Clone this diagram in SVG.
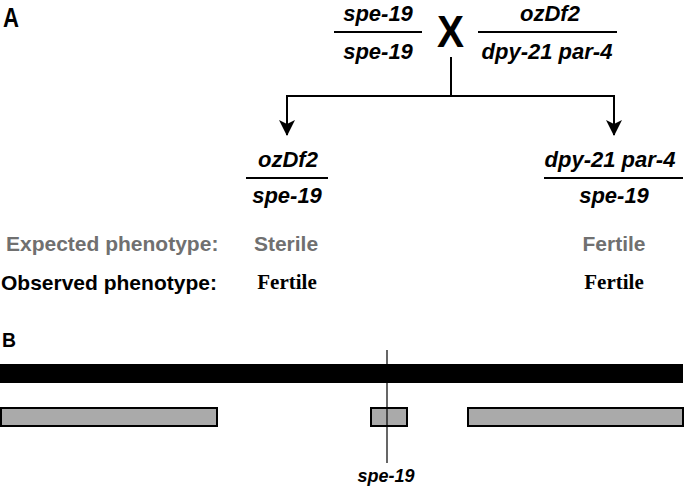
<svg xmlns="http://www.w3.org/2000/svg" width="685" height="488" viewBox="0 0 685 488">
<style>
.lbl{font-family:"Liberation Sans",Arial,sans-serif;font-weight:bold;}
.gi{font-family:"Liberation Sans",Arial,sans-serif;font-weight:bold;font-style:italic;font-size:22px;text-anchor:middle;fill:#000;}
.ph{font-family:"Liberation Sans",Arial,sans-serif;font-weight:bold;font-size:21px;}
.grey{fill:#707070;}
.serif{font-family:"Liberation Serif","Times New Roman",serif;font-weight:bold;font-size:21px;text-anchor:middle;fill:#000;}
.frac{stroke:#000;stroke-width:2;}
.conn{stroke:#000;stroke-width:2;fill:none;}
.seg{fill:#aaaaaa;stroke:#000;stroke-width:2;}
</style>
<defs>
<marker id="arr" markerWidth="16" markerHeight="18" refX="15" refY="8" orient="auto" markerUnits="userSpaceOnUse" viewBox="0 0 16 16">
<path d="M0,0 L16,8 L0,16 L4,8 Z" fill="#000"/>
</marker>
</defs>
<rect width="685" height="488" fill="#fff"/>
<text class="lbl" x="3" y="27" font-size="27" textLength="16" lengthAdjust="spacingAndGlyphs">A</text>
<text class="lbl" x="2" y="347" font-size="21" textLength="14" lengthAdjust="spacingAndGlyphs">B</text>

<g id="parent1">
<text class="gi" x="378" y="21">spe-19</text>
<line class="frac" x1="334" y1="32" x2="422" y2="32"/>
<text class="gi" x="378" y="59">spe-19</text>
</g>
<g id="cross">
<text class="lbl" x="437" y="47" font-size="45" textLength="27" lengthAdjust="spacingAndGlyphs">X</text>
</g>
<g id="parent2">
<text class="gi" x="550" y="21">ozDf2</text>
<line class="frac" x1="478" y1="32" x2="617" y2="32"/>
<text class="gi" x="547" y="59">dpy-21 par-4</text>
</g>

<g id="connectors">
<polyline class="conn" points="451,57 451,96"/>
<polyline class="conn" points="287,96 614,96"/>
<line class="conn" x1="287" y1="95" x2="287" y2="135" marker-end="url(#arr)"/>
<line class="conn" x1="614" y1="95" x2="614" y2="135" marker-end="url(#arr)"/>
</g>

<g id="offspring1">
<text class="gi" x="288" y="167">ozDf2</text>
<line class="frac" x1="246" y1="178" x2="328" y2="178"/>
<text class="gi" x="287" y="203">spe-19</text>
</g>
<g id="offspring2">
<text class="gi" x="610" y="167">dpy-21 par-4</text>
<line class="frac" x1="544" y1="178" x2="683" y2="178"/>
<text class="gi" x="614" y="203">spe-19</text>
</g>

<g id="phenotypes">
<text class="ph grey" x="6" y="251">Expected phenotype:</text>
<text class="ph grey" x="286" y="251" text-anchor="middle">Sterile</text>
<text class="ph grey" x="614" y="251" text-anchor="middle">Fertile</text>
<text class="ph" x="1" y="290">Observed phenotype:</text>
<text class="serif" x="287" y="289">Fertile</text>
<text class="serif" x="614" y="289">Fertile</text>
</g>

<g id="map">
<rect x="0" y="364" width="683" height="19" fill="#000"/>
<rect class="seg" x="1" y="408" width="216" height="18"/>
<rect class="seg" x="371" y="408" width="36" height="18"/>
<rect class="seg" x="468" y="408" width="215" height="18"/>
<line x1="387" y1="350" x2="387" y2="463" stroke="#000" stroke-width="1.2"/>
<text class="gi" x="386" y="482" style="font-size:18px">spe-19</text>
</g>
</svg>
